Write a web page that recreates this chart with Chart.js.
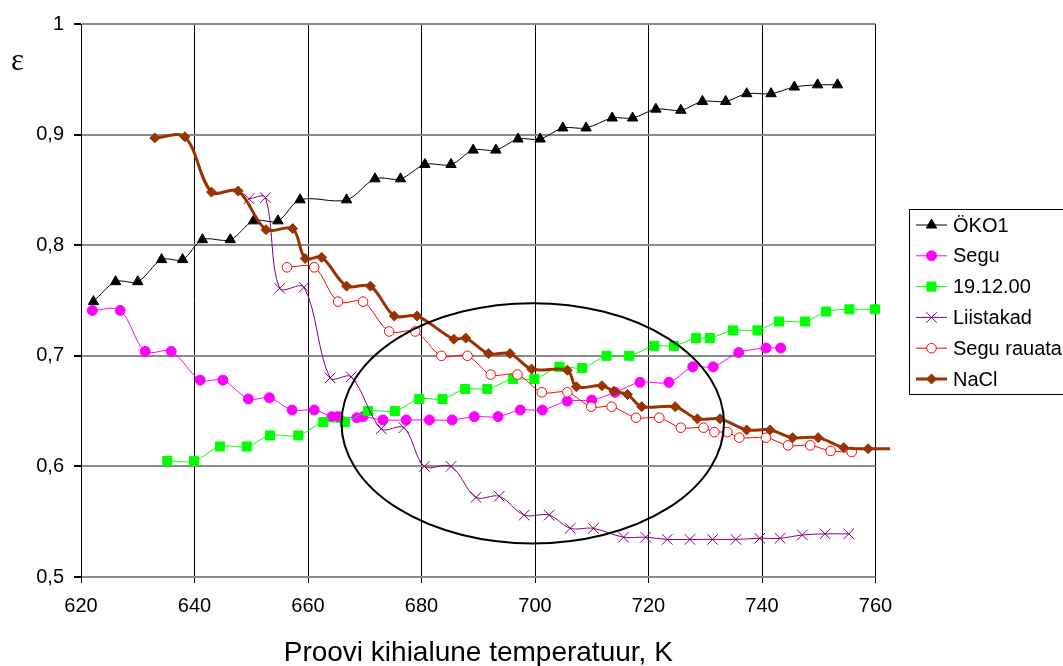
<!DOCTYPE html>
<html><head><meta charset="utf-8">
<style>html,body{margin:0;padding:0;background:#fff;overflow:hidden}</style>
<script src="https://cdn.jsdelivr.net/npm/chart.js@4.4.1/dist/chart.umd.min.js"></script>
</head><body>
<canvas id="c" width="1063" height="666"></canvas>
<script>
// ---- data ----
const seriesNames = ['ÖKO1', 'Segu', '19.12.00', 'Liistakad', 'Segu rauata', 'NaCl'];

const okoT = [622.2,626.1,630.0,634.2,637.9,641.4,646.3,650.4,654.7,658.6,666.8,671.8,676.3,680.6,685.2,689.1,693.1,697.0,700.9,704.9,709.0,713.6,717.2,721.3,725.7,729.5,733.6,737.3,741.6,745.7,749.8,753.3];
const okoE = [0.749,0.767,0.767,0.787,0.787,0.805,0.805,0.822,0.822,0.841,0.841,0.860,0.860,0.873,0.873,0.886,0.886,0.896,0.896,0.906,0.906,0.915,0.915,0.923,0.922,0.930,0.930,0.937,0.937,0.943,0.945,0.945];

const seguT = [622.0,626.9,631.3,635.9,641.0,645.0,649.5,653.2,657.2,661.1,664.2,665.3,668.6,669.7,673.2,677.3,681.4,685.4,689.3,693.5,697.4,701.3,705.7,710.0,714.1,718.5,723.6,727.8,731.4,735.9,740.7,743.3];
const seguE = [0.741,0.741,0.704,0.704,0.678,0.678,0.661,0.662,0.651,0.651,0.645,0.645,0.644,0.645,0.642,0.642,0.642,0.642,0.645,0.645,0.651,0.651,0.659,0.660,0.667,0.676,0.676,0.690,0.690,0.703,0.707,0.707];

const d191200T = [635.2,639.9,644.5,649.2,653.3,658.3,662.7,666.5,670.6,675.3,679.6,683.7,687.7,691.6,696.1,699.9,704.3,708.3,712.6,716.6,721.0,724.5,728.4,730.8,734.9,739.2,743.0,747.6,751.3,755.4,759.9];
const d191200E = [0.605,0.605,0.618,0.618,0.628,0.628,0.640,0.640,0.650,0.650,0.661,0.661,0.670,0.670,0.679,0.679,0.690,0.689,0.700,0.700,0.709,0.709,0.716,0.716,0.723,0.723,0.731,0.731,0.740,0.742,0.742];

const liistT = [649.6,652.5,655.0,659.3,663.9,667.6,672.9,676.9,680.5,685.2,689.6,693.7,698.1,702.5,706.2,710.3,715.6,719.5,723.3,727.3,731.3,735.4,739.6,743.2,747.1,751.1,755.3];
const liistE = [0.842,0.843,0.761,0.762,0.680,0.681,0.634,0.635,0.600,0.600,0.572,0.573,0.556,0.556,0.544,0.544,0.536,0.536,0.534,0.534,0.534,0.534,0.535,0.535,0.538,0.539,0.539];

const rauataT = [656.3,661.1,665.3,669.7,674.3,678.9,683.5,688.1,692.2,696.9,701.2,705.7,709.9,713.5,717.8,721.9,725.7,729.7,731.6,733.9,736.0,740.7,744.6,748.5,752.1,755.8];
const rauataE = [0.780,0.780,0.749,0.749,0.722,0.722,0.700,0.700,0.683,0.683,0.667,0.667,0.654,0.654,0.644,0.644,0.635,0.635,0.631,0.631,0.626,0.626,0.619,0.619,0.614,0.613];

const naclT = [633.0,638.3,643.0,647.7,652.6,657.3,659.5,662.4,666.8,671.0,675.2,679.2,685.7,687.8,691.8,695.6,699.4,705.7,707.3,711.8,713.9,716.3,718.8,724.7,728.6,732.6,737.3,741.4,745.4,749.9,754.4,758.7,762.6];
const naclE = [0.897,0.898,0.848,0.849,0.814,0.815,0.788,0.789,0.763,0.763,0.736,0.736,0.715,0.716,0.702,0.702,0.688,0.687,0.672,0.673,0.668,0.665,0.654,0.654,0.643,0.643,0.633,0.633,0.626,0.626,0.617,0.616,0.616];

const xTickLabels = ['620','640','660','680','700','720','740','760'];
const yTickLabels = ['0,5','0,6','0,7','0,8','0,9','1'];
const xTitle = 'Proovi kihialune temperatuur, K';
const yTitle = 'ε';

// ellipse annotation (data units)
const ellipseCenterT = 699.6, ellipseCenterE = 0.639, ellipseHalfT = 33.7, ellipseHalfE = 0.1086;

// ---- styles ----
const X_MIN = 620, X_MAX = 760;
const styles = [
  {color:'#000000', fill:'#000000', width:1, point:'triangle', r:6},
  {color:'#FF00FF', fill:'#FF00FF', width:1, point:'circle', r:5},
  {color:'#00FF00', fill:'#00FF00', width:1, point:'rect', r:6.4},
  {color:'#800080', fill:'#800080', width:1, point:'crossRot', r:7.5},
  {color:'#FF0000', fill:'#FFFFFF', width:1, point:'circle', r:4.8},
  {color:'#993300', fill:'#993300', width:3, point:'rectRot', r:5}
];
const seriesData = [[okoT,okoE],[seguT,seguE],[d191200T,d191200E],[liistT,liistE],[rauataT,rauataE],[naclT,naclE]];

const datasets = seriesNames.map((name, i) => {
  const s = styles[i];
  const [t, e] = seriesData[i];
  return {
    label: name,
    data: t.map((v, k) => ({x: v, y: e[k]})),
    borderColor: s.color,
    backgroundColor: s.fill,
    borderWidth: s.width,
    pointStyle: s.point,
    pointRadius: ctx => (ctx.raw && ctx.raw.x > X_MAX) ? 0 : s.r,
    pointBorderColor: s.color,
    pointBackgroundColor: s.fill,
    pointBorderWidth: 1,
    pointHoverRadius: s.r,
    tension: 0.33,
    fill: false,
    order: 6 - i,
    clip: {left: 10, top: 10, right: 15, bottom: 10}
  };
});

function drawMarker(ctx, style, x, y, r) {
  ctx.beginPath();
  const Q = Math.PI / 4;
  if (style === 'circle') { ctx.arc(x, y, r, 0, Math.PI * 2); ctx.closePath(); ctx.fill(); ctx.stroke(); return; }
  if (style === 'triangle') {
    ctx.moveTo(x, y - r);
    ctx.lineTo(x + Math.sin(2*Math.PI/3) * r, y + r/2);
    ctx.lineTo(x - Math.sin(2*Math.PI/3) * r, y + r/2);
    ctx.closePath(); ctx.fill(); ctx.stroke(); return;
  }
  if (style === 'rect') { const s = Math.SQRT1_2 * r; ctx.rect(x - s, y - s, 2*s, 2*s); ctx.fill(); ctx.stroke(); return; }
  if (style === 'rectRot') { ctx.moveTo(x - r, y); ctx.lineTo(x, y - r); ctx.lineTo(x + r, y); ctx.lineTo(x, y + r); ctx.closePath(); ctx.fill(); ctx.stroke(); return; }
  if (style === 'crossRot') { const o = Math.cos(Q) * r; ctx.moveTo(x - o, y - o); ctx.lineTo(x + o, y + o); ctx.moveTo(x - o, y + o); ctx.lineTo(x + o, y - o); ctx.stroke(); return; }
}

const FONT = "'Liberation Sans', Arial, sans-serif";

const extras = {
  id: 'extras',
  afterDatasetsDraw(chart) {
    const ctx = chart.ctx, xs = chart.scales.x, ys = chart.scales.y;
    const cx = xs.getPixelForValue(ellipseCenterT), cy = ys.getPixelForValue(ellipseCenterE);
    const rx = Math.abs(xs.getPixelForValue(ellipseCenterT + ellipseHalfT) - cx);
    const ry = Math.abs(ys.getPixelForValue(ellipseCenterE + ellipseHalfE) - cy);
    ctx.save();
    ctx.beginPath();
    ctx.ellipse(cx, cy, rx, ry, 0, 0, Math.PI * 2);
    ctx.strokeStyle = '#000'; ctx.lineWidth = 2; ctx.stroke();
    ctx.restore();
  },
  afterDraw(chart) {
    const ctx = chart.ctx;
    ctx.save();
    ctx.fillStyle = '#000';
    ctx.font = "31px 'Liberation Serif', 'Times New Roman', serif";
    ctx.textAlign = 'left'; ctx.textBaseline = 'middle';
    ctx.fillText(yTitle, 11, 62);
    ctx.font = '28px ' + FONT;
    ctx.textAlign = 'center';
    ctx.fillText(xTitle, (chart.chartArea.left + chart.chartArea.right) / 2, 653);
    // legend
    ctx.strokeStyle = '#000'; ctx.lineWidth = 1;
    ctx.strokeRect(909.5, 209.5, 200, 185);
    ctx.font = '20px ' + FONT;
    ctx.textAlign = 'left'; ctx.textBaseline = 'middle';
    chart.data.datasets.forEach((ds, i) => {
      const s = styles[i];
      const y = 225 + i * 30.8;
      ctx.beginPath();
      ctx.strokeStyle = s.color; ctx.lineWidth = s.width;
      ctx.moveTo(916, y); ctx.lineTo(947, y); ctx.stroke();
      ctx.fillStyle = s.fill; ctx.strokeStyle = s.color; ctx.lineWidth = 1;
      drawMarker(ctx, s.point, 931.5, y, s.r);
      ctx.fillStyle = '#000';
      ctx.fillText(ds.label, 953, y + 1);
    });
    ctx.restore();
  }
};

new Chart(document.getElementById('c'), {
  type: 'line',
  data: { datasets },
  options: {
    responsive: false,
    animation: false,
    events: [],
    layout: { padding: { top: 24, right: 187.5, left: 0, bottom: 0 } },
    plugins: { legend: { display: false }, tooltip: { enabled: false } },
    scales: {
      x: {
        type: 'linear', min: X_MIN, max: X_MAX,
        afterFit: s => { s.height = 89; },
        afterBuildTicks: s => { s.ticks = xTickLabels.map(v => ({value: Number(v)})); },
        ticks: { stepSize: 20, color: '#000', font: { family: FONT, size: 20 }, padding: 11, maxRotation: 0,
                 callback: (v, i) => xTickLabels[i] },
        grid: { color: '#000', lineWidth: 1, tickColor: '#000', tickLength: 6 },
        border: { display: false }
      },
      y: {
        type: 'linear', min: 0.5, max: 1,
        afterFit: s => { s.width = 81; },
        afterBuildTicks: s => { s.ticks = yTickLabels.map(v => ({value: Number(v.replace(',', '.'))})); },
        ticks: { stepSize: 0.1, color: '#000', font: { family: FONT, size: 20 }, padding: 10,
                 callback: (v, i) => yTickLabels[i] },
        grid: { color: '#8a8a8a', lineWidth: 2, tickColor: '#000', tickLength: 7 },
        border: { display: true, color: '#000', width: 1 }
      }
    }
  },
  plugins: [extras]
});
</script>
</body></html>
